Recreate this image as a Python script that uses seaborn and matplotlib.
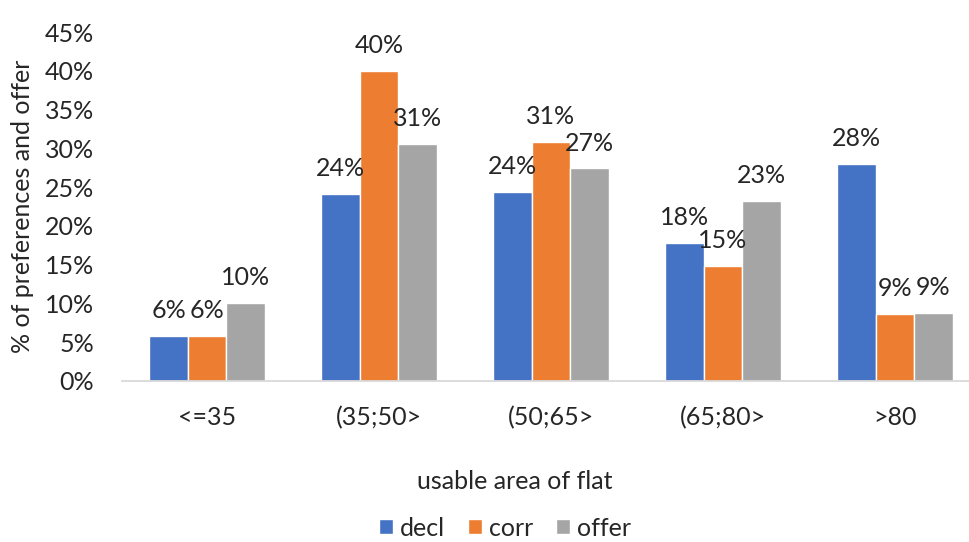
import matplotlib
matplotlib.use("Agg")
import matplotlib.pyplot as plt
import seaborn as sns
import pandas as pd
from matplotlib.ticker import FuncFormatter

categories = ["<=35", "(35;50>", "(50;65>", "(65;80>", ">80"]
decl = [5.8, 24.1, 24.4, 17.8, 28.0]
corr = [5.8, 40.0, 30.8, 14.8, 8.6]
offer = [10.1, 30.6, 27.4, 23.2, 8.8]
series_names = ["decl", "corr", "offer"]
colors = ["#4472C4", "#ED7D31", "#A5A5A5"]

rows = []
for name, vals in zip(series_names, [decl, corr, offer]):
    for c, v in zip(categories, vals):
        rows.append({"area": c, "value": v, "series": name})
df = pd.DataFrame(rows)

sns.set_theme(style="white")
plt.rcParams["font.family"] = ["Lato", "DejaVu Sans"]
TXT = "#262626"
FS = 18

fig = plt.figure(figsize=(9.7, 5.42), dpi=100)
ax = fig.add_axes([122/970, (542-381)/542, (970-122)/970, (381-32)/542])

sns.barplot(data=df, x="area", y="value", hue="series", order=categories,
            hue_order=series_names, palette=colors, saturation=1, width=0.67,
            ax=ax, legend=True)

for cont in ax.containers:
    ax.bar_label(cont, labels=[f"{round(b.get_height()):d}%" for b in cont],
                 padding=10, fontsize=FS, color=TXT)

ax.set_ylim(0, 45)
ax.set_xlim(-0.494, 4.436)
ax.set_yticks(range(0, 46, 5))
ax.yaxis.set_major_formatter(FuncFormatter(lambda v, p: f"{int(v)}%"))
ax.tick_params(axis="y", length=0, pad=20, labelsize=FS, labelcolor=TXT)
ax.tick_params(axis="x", length=0, pad=18, labelsize=FS, labelcolor=TXT)

for s in ["top", "right", "left"]:
    ax.spines[s].set_visible(False)
ax.spines["bottom"].set_color("#D9D9D9")
ax.spines["bottom"].set_linewidth(1.3)

ax.set_ylabel("% of preferences and offer", fontsize=FS, color=TXT)
ax.yaxis.set_label_coords(-0.104, 0.5)
ax.set_xlabel("usable area of flat", fontsize=FS, color=TXT)
ax.xaxis.set_label_coords(0.463, -0.255)

ax.legend(loc="center", bbox_to_anchor=(505/970, 1-528/542),
          bbox_transform=fig.transFigure, ncol=3, frameon=False,
          fontsize=FS, handlelength=0.55, handleheight=0.55,
          handletextpad=0.3, columnspacing=0.9, title=None,
          labelcolor=TXT)

fig.savefig("out.png", dpi=100)
